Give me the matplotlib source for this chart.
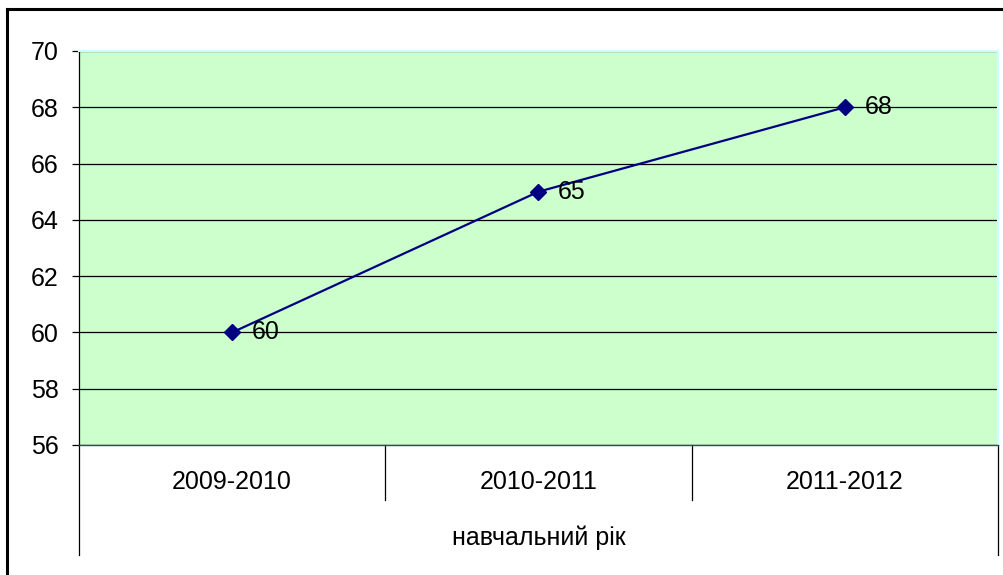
import matplotlib.pyplot as plt
from matplotlib.lines import Line2D

plt.rcParams['font.family'] = ['Liberation Sans', 'DejaVu Sans']

years = ['2009-2010', '2010-2011', '2011-2012']
values = [60, 65, 68]
axis_title = 'навчальний рік'
yticks = [56, 58, 60, 62, 64, 66, 68, 70]

FS = 18

fig = plt.figure(figsize=(10.04, 5.75), dpi=100)
fig.patch.set_facecolor('white')
ax = fig.add_axes([79 / 1004, 130 / 575, 919 / 1004, 394 / 575])
ax.set_facecolor('#ccffcc')

x = list(range(len(years)))
ax.plot(x, values, color='#000080', lw=1.6, marker='D', ms=8.5, zorder=3)
for xi, v in zip(x, values):
    ax.annotate(str(v), (xi, v), xytext=(14, 0), textcoords='offset points',
                ha='left', va='center', fontsize=FS, zorder=4)

ax.set_xlim(-0.5, len(years) - 0.5)
ax.set_ylim(min(yticks), max(yticks))
ax.set_yticks(yticks)
ax.yaxis.grid(True, color='black', lw=0.9)
ax.set_axisbelow(True)
ax.tick_params(axis='y', length=5, width=0.9, pad=9.5, labelsize=FS)
ax.set_xticks([])

for side in ['top', 'right']:
    ax.spines[side].set_color('#ccffff')
    ax.spines[side].set_linewidth(1.5)
ax.spines['left'].set_color('black')
ax.spines['left'].set_linewidth(0.9)
ax.spines['bottom'].set_color('#2f4f4f')
ax.spines['bottom'].set_linewidth(1.0)

# multi-level category axis below the plot
tr = ax.get_xaxis_transform()
for i in range(len(years) + 1):
    xb = i - 0.5
    y_end = -0.279 if i in (0, len(years)) else -0.14
    ax.plot([xb, xb], [0, y_end], color='black', lw=0.9, transform=tr, clip_on=False)
for xi, lab in zip(x, years):
    ax.text(xi, -0.094, lab, transform=tr, ha='center', va='center', fontsize=FS)
ax.text((len(years) - 1) / 2, -0.236, axis_title, transform=tr, ha='center', va='center', fontsize=FS)

# chart border (clipped at right and bottom)
fig.add_artist(Line2D([7.5 / 1004, 1.0], [566 / 575, 566 / 575], color='black', lw=2.2, transform=fig.transFigure))
fig.add_artist(Line2D([7.5 / 1004, 7.5 / 1004], [0, 566 / 575], color='black', lw=2.2, transform=fig.transFigure))

fig.savefig('out.png', dpi=100)
